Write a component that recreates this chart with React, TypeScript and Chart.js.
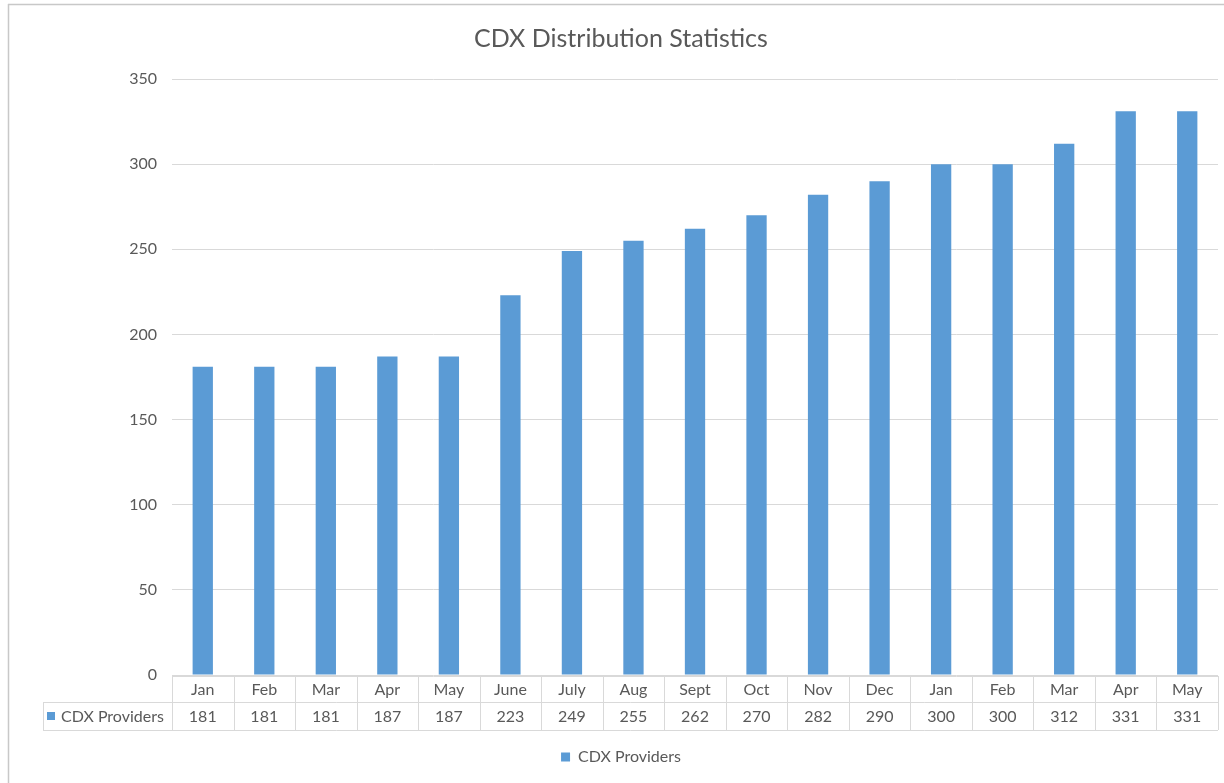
import React, { useEffect, useRef } from "react";
import { Chart, registerables } from "chart.js";

Chart.register(...registerables);

const TITLE = "CDX Distribution Statistics";
const SERIES_NAME = "CDX Providers";
const categories = ["Jan", "Feb", "Mar", "Apr", "May", "June", "July", "Aug", "Sept", "Oct", "Nov", "Dec", "Jan", "Feb", "Mar", "Apr", "May"];
const providers = [181, 181, 181, 187, 187, 223, 249, 255, 262, 270, 282, 290, 300, 300, 312, 331, 331];

const FONT = "Lato, 'Open Sans', 'Liberation Sans', sans-serif";
const TEXT = "#595959";
const GRID = "#d9d9d9";
const BAR = "#5B9BD5";

const framePlugin = {
  id: "frame",
  beforeDraw(chart: any) {
    const { ctx, width, height } = chart;
    ctx.save();
    ctx.fillStyle = "#ffffff";
    ctx.fillRect(0, 0, width, height);
    ctx.strokeStyle = "#c8c8c8";
    ctx.lineWidth = 1.5;
    ctx.beginPath();
    ctx.moveTo(8, 4.5);
    ctx.lineTo(width, 4.5);
    ctx.moveTo(8.5, 4);
    ctx.lineTo(8.5, height);
    ctx.stroke();
    ctx.restore();
  },
};

const tablePlugin = {
  id: "dataTable",
  afterDraw(chart: any) {
    const { ctx, chartArea } = chart;
    const x = chart.scales.x;
    const n = categories.length;
    const half = (x.getPixelForValue(1) - x.getPixelForValue(0)) / 2;
    const left = chartArea.left;
    const right = chartArea.right;
    const top = chartArea.bottom + 1;
    const mid = top + 26;
    const bot = mid + 28;
    const headLeft = 43;
    ctx.save();
    ctx.strokeStyle = GRID;
    ctx.lineWidth = 1;
    ctx.beginPath();
    ctx.moveTo(left, top + 0.5);
    ctx.lineTo(right, top + 0.5);
    ctx.moveTo(headLeft, mid + 0.5);
    ctx.lineTo(right, mid + 0.5);
    ctx.moveTo(headLeft, bot + 0.5);
    ctx.lineTo(right, bot + 0.5);
    ctx.moveTo(headLeft + 0.5, mid);
    ctx.lineTo(headLeft + 0.5, bot);
    for (let i = 0; i <= n; i++) {
      const px = Math.round(i < n ? x.getPixelForValue(i) - half : x.getPixelForValue(n - 1) + half) + 0.5;
      ctx.moveTo(px, top);
      ctx.lineTo(px, bot);
    }
    ctx.stroke();

    ctx.fillStyle = TEXT;
    ctx.font = `16px ${FONT}`;
    ctx.textAlign = "center";
    ctx.textBaseline = "middle";
    for (let i = 0; i < n; i++) {
      const cx = x.getPixelForValue(i);
      ctx.fillText(categories[i], cx, (top + mid) / 2 + 1);
      ctx.fillText(String(providers[i]), cx, (mid + bot) / 2 + 1);
    }
    ctx.fillStyle = BAR;
    ctx.fillRect(47, (mid + bot) / 2 - 4, 8, 8);
    ctx.fillStyle = TEXT;
    ctx.textAlign = "left";
    ctx.fillText(SERIES_NAME, 61, (mid + bot) / 2 + 1);
    ctx.restore();
  },
};

export default function App() {
  const ref = useRef<HTMLCanvasElement | null>(null);
  useEffect(() => {
    if (!ref.current) return;
    const chart = new Chart(ref.current, {
      type: "bar",
      data: {
        labels: categories,
        datasets: [
          {
            label: SERIES_NAME,
            data: providers,
            backgroundColor: BAR,
            categoryPercentage: 1,
            barPercentage: 0.33,
          },
        ],
      },
      options: {
        animation: false,
        responsive: false,
        maintainAspectRatio: false,
        layout: { padding: { left: 24, right: 6, top: 0, bottom: 8 } },
        plugins: {
          title: {
            display: true,
            text: TITLE,
            color: TEXT,
            font: { family: FONT, size: 25, weight: "normal" },
            padding: { top: 24, bottom: 25 },
          },
          legend: {
            display: true,
            position: "bottom",
            labels: {
              color: TEXT,
              font: { family: FONT, size: 16 },
              boxWidth: 9,
              boxHeight: 9,
              padding: 10,
            },
          },
          tooltip: { enabled: false },
        },
        scales: {
          x: {
            display: true,
            ticks: { display: false },
            grid: { display: false },
            border: { display: false },
            afterFit: (s: any) => {
              s.height = 64;
            },
          },
          y: {
            min: 0,
            max: 350,
            ticks: {
              stepSize: 50,
              color: TEXT,
              font: { family: FONT, size: 16 },
              padding: 15,
            },
            grid: { color: GRID, drawTicks: false },
            border: { display: false },
            afterFit: (s: any) => {
              s.width = 148;
            },
          },
        },
      },
      plugins: [framePlugin, tablePlugin],
    });
    return () => chart.destroy();
  }, []);
  return (
    <div style={{ position: "absolute", left: 0, top: 0, width: 1224, height: 783 }}>
      <canvas ref={ref} width={1224} height={783} style={{ display: "block" }} />
    </div>
  );
}
